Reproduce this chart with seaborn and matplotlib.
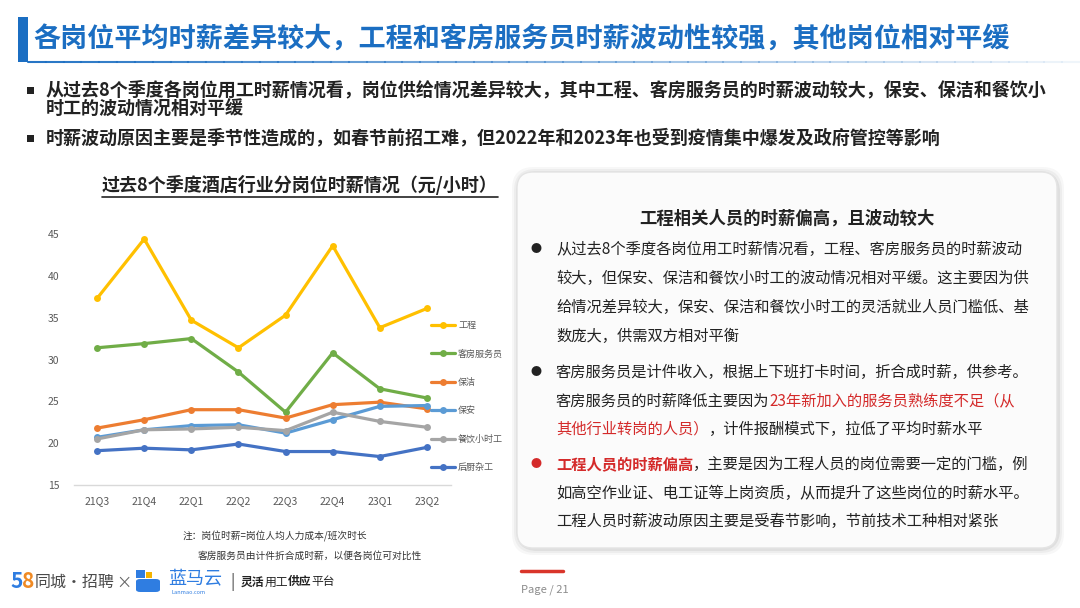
import numpy as np
import pandas as pd
import matplotlib
matplotlib.use("Agg")
import matplotlib.pyplot as plt
import seaborn as sns
from matplotlib.patches import FancyBboxPatch, Rectangle
from matplotlib.lines import Line2D

# ---------------------------------------------------------------------------
# Data (元/小时)
# ---------------------------------------------------------------------------
quarters = ["21Q3", "21Q4", "22Q1", "22Q2", "22Q3", "22Q4", "23Q1", "23Q2"]
roles = ["工程", "客房服务员", "保洁", "保安", "餐饮小时工", "后厨杂工"]

eng = [37.3, 44.4, 34.7, 31.4, 35.3, 43.6, 33.8, 36.1]
housekeeping = [31.4, 31.9, 32.5, 28.5, 23.7, 30.8, 26.5, 25.4]
cleaning = [21.8, 22.8, 24.0, 24.0, 23.0, 24.6, 24.9, 24.1]
security = [20.7, 21.6, 22.1, 22.2, 21.2, 22.8, 24.4, 24.5]
catering = [20.5, 21.6, 21.7, 21.9, 21.5, 23.7, 22.6, 21.9]
kitchen = [19.1, 19.4, 19.2, 19.9, 19.0, 19.0, 18.4, 19.5]

palette = ["#FFC000", "#70AD47", "#ED7D31", "#5B9BD5", "#A5A5A5", "#4472C4"]

df = pd.DataFrame({
    "quarter": quarters * len(roles),
    "role": np.repeat(roles, len(quarters)),
    "wage": eng + housekeeping + cleaning + security + catering + kitchen,
})

W, H = 1080, 608
BLUE = "#1B6EC2"
RED = "#D42A2A"
DARK = "#222222"

sns.set_theme(style="white")
plt.rcParams["font.family"] = ["Noto Sans CJK SC", "DejaVu Sans"]

fig = plt.figure(figsize=(W / 100, H / 100), dpi=100)
fig.patch.set_facecolor("white")
renderer = fig.canvas.get_renderer()


def fx(x):
    return x / W


def fy(y):
    return 1 - y / H


def rich(x, y, parts, size):
    """Draw consecutive text pieces (text, color, weight) on one line."""
    cur = fx(x)
    for txt, color, weight in parts:
        t = fig.text(cur, fy(y), txt, color=color, fontsize=size,
                     fontweight=weight, va="center", ha="left")
        cur += t.get_window_extent(renderer).width / W


# ---------------------------------------------------------------------------
# Header
# ---------------------------------------------------------------------------
fig.add_artist(Rectangle((fx(18), fy(62)), fx(10), 45 / H, color=BLUE, lw=0))
fig.text(fx(33), fy(40), "各岗位平均时薪差异较大，工程和客房服务员时薪波动性较强，其他岗位相对平缓",
         color=BLUE, fontsize=19.5, fontweight="bold", va="center")
grad = np.linspace(0, 1, 60)
for i in range(len(grad) - 1):
    x0 = 28 + (1080 - 28) * grad[i]
    x1 = 28 + (1080 - 28) * grad[i + 1]
    fig.add_artist(Line2D([fx(x0), fx(x1)], [fy(62), fy(62)], color=BLUE,
                          alpha=0.9 * (1 - grad[i]) + 0.05, lw=1.5))

bullet_lines = [
    (90, True, "从过去8个季度各岗位用工时薪情况看，岗位供给情况差异较大，其中工程、客房服务员的时薪波动较大，保安、保洁和餐饮小"),
    (109, False, "时工的波动情况相对平缓"),
    (138, True, "时薪波动原因主要是季节性造成的，如春节前招工难，但2022年和2023年也受到疫情集中爆发及政府管控等影响"),
]
for y, has_bullet, txt in bullet_lines:
    if has_bullet:
        fig.add_artist(Rectangle((fx(27), fy(y + 4)), 7 / W, 7 / H, color=DARK, lw=0))
    fig.text(fx(46), fy(y), txt, color=DARK, fontsize=13, fontweight="bold", va="center")

# ---------------------------------------------------------------------------
# Chart
# ---------------------------------------------------------------------------
t = fig.text(fx(300), fy(185), "过去8个季度酒店行业分岗位时薪情况（元/小时）",
             color=DARK, fontsize=13, fontweight="bold", va="center", ha="center")
bb = t.get_window_extent(renderer)
fig.add_artist(Line2D([bb.x0 / W, bb.x1 / W], [fy(197), fy(197)], color=DARK, lw=1.2))

ax = fig.add_axes([fx(73.5), fy(485), 377 / W, 251 / H])
sns.lineplot(data=df, x="quarter", y="wage", hue="role", hue_order=roles,
             palette=palette, marker="o", markersize=5, markeredgewidth=0,
             linewidth=2.3, sort=False, ax=ax)
ax.set_xlim(-0.5, 7.5)
ax.set_ylim(15, 45)
ax.set_yticks([15, 20, 25, 30, 35, 40, 45])
ax.set_xlabel("")
ax.set_ylabel("")
ax.tick_params(axis="both", length=0, labelsize=7.5, colors="#595959")
ax.tick_params(axis="y", pad=10)
ax.tick_params(axis="x", pad=8)
for side in ["top", "right", "left"]:
    ax.spines[side].set_visible(False)
ax.spines["bottom"].set_color("#D9D9D9")
ax.spines["bottom"].set_linewidth(1)
ax.set_facecolor("none")

handles, labels = ax.get_legend_handles_labels()
ax.get_legend().remove()
fig.legend(handles, labels, loc="upper left",
           bbox_to_anchor=(fx(431), fy(321)), bbox_transform=fig.transFigure,
           frameon=False, fontsize=6.5, labelcolor="#595959",
           labelspacing=2.15, handlelength=2.7, handletextpad=0.3,
           borderpad=0, borderaxespad=0)

fig.text(fx(183), fy(536), "注：岗位时薪=岗位人均人力成本/班次时长", color="#333333",
         fontsize=7, va="center")
fig.text(fx(198), fy(556), "客房服务员由计件折合成时薪，以便各岗位可对比性", color="#333333",
         fontsize=7, va="center")

# ---------------------------------------------------------------------------
# Right card
# ---------------------------------------------------------------------------
for off, alpha in [(7, 0.03), (5, 0.04), (3, 0.06)]:
    fig.add_artist(FancyBboxPatch((fx(517 - off + 2), fy(548 + off)), 540 / W + 2 * off / W - 2 / W,
                                  (376 + 2 * off - 2) / H,
                                  boxstyle="round,pad=0,rounding_size=0.02",
                                  fc="black", ec="none", alpha=alpha,
                                  transform=fig.transFigure, mutation_aspect=W / H))
fig.add_artist(FancyBboxPatch((fx(517), fy(548)), 540 / W, 376 / H,
                              boxstyle="round,pad=0,rounding_size=0.015",
                              fc="#FBFBFB", ec="#E4E4E4", lw=1,
                              transform=fig.transFigure, mutation_aspect=W / H))

fig.text(fx(787), fy(219), "工程相关人员的时薪偏高，且波动较大", color=DARK,
         fontsize=12.5, fontweight="bold", va="center", ha="center")

BODY = 11
TX = 556
card_lines = [
    (249, [("从过去8个季度各岗位用工时薪情况看，工程、客房服务员的时薪波动", DARK, "normal")]),
    (278, [("较大，但保安、保洁和餐饮小时工的波动情况相对平缓。这主要因为供", DARK, "normal")]),
    (307, [("给情况差异较大，保安、保洁和餐饮小时工的灵活就业人员门槛低、基", DARK, "normal")]),
    (336, [("数庞大，供需双方相对平衡", DARK, "normal")]),
    (372, [("客房服务员是计件收入，根据上下班打卡时间，折合成时薪，供参考。", DARK, "normal")]),
    (401, [("客房服务员的时薪降低主要因为", DARK, "normal"),
           ("23年新加入的服务员熟练度不足（从", RED, "normal")]),
    (429, [("其他行业转岗的人员）", RED, "normal"),
           ("，计件报酬模式下，拉低了平均时薪水平", DARK, "normal")]),
    (464, [("工程人员的时薪偏高", RED, "bold"),
           ("，主要是因为工程人员的岗位需要一定的门槛，例", DARK, "normal")]),
    (493, [("如高空作业证、电工证等上岗资质，从而提升了这些岗位的时薪水平。", DARK, "normal")]),
    (521, [("工程人员时薪波动原因主要是受春节影响，节前技术工种相对紧张", DARK, "normal")]),
]
for y, parts in card_lines:
    rich(TX, y, parts, BODY)

for y, color in [(249, DARK), (372, DARK), (464, RED)]:
    fig.text(fx(536), fy(y), "●", color=color, fontsize=8, va="center", ha="center")

# ---------------------------------------------------------------------------
# Footer
# ---------------------------------------------------------------------------
fig.add_artist(Line2D([fx(521), fx(563)], [fy(571), fy(571)], color="#D9352A", lw=2.5))
fig.text(fx(521), fy(590), "Page / 21", color="#8C8C8C", fontsize=8, va="center")

rich(10, 582, [("5", "#2F7DE1", "bold"), ("8", "#F08A24", "bold")], 15)
rich(35, 582, [("同城·招聘", "#4A4A4A", "normal")], 11.5)
fig.text(fx(124), fy(583), "×", color="#666666", fontsize=11, va="center", ha="center")
fig.add_artist(FancyBboxPatch((fx(136), fy(592)), 24 / W, 13 / H,
                              boxstyle="round,pad=0,rounding_size=0.004",
                              fc="#2F7DE1", ec="none", transform=fig.transFigure))
fig.add_artist(Rectangle((fx(136), fy(578)), 9 / W, 8 / H, color="#2F7DE1", lw=0))
fig.add_artist(Rectangle((fx(146), fy(578)), 6 / W, 6 / H, color="#F5B400", lw=0))
fig.text(fx(168), fy(579), "蓝马云", color="#2F7DE1", fontsize=13, va="center")
fig.text(fx(172), fy(593), "Lanmao.com", color="#2F7DE1", fontsize=4, va="center")
fig.text(fx(230), fy(582), "|", color="#444444", fontsize=11, va="center")
rich(241, 582, [("灵活", DARK, "bold"), ("用工", DARK, "normal"),
                ("供应", DARK, "bold"), ("平台", DARK, "normal")], 8.5)

fig.savefig("out.png", dpi=100, facecolor="white")
